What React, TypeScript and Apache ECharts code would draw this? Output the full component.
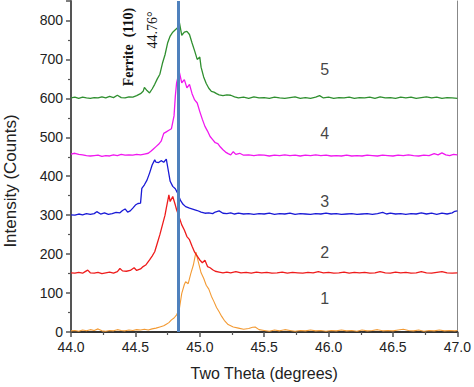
import React, { useEffect, useRef } from "react";
import * as echarts from "echarts";

// Two Theta (deg) vs Intensity (counts), offset patterns 1..5
const sample1: number[][] = [
  [44.00,3],[44.03,4],[44.06,2],[44.09,5],[44.12,3],[44.15,6],[44.18,4],[44.21,8],[44.24,3],[44.27,2],
  [44.30,4],[44.33,3],[44.36,6],[44.39,4],[44.42,3],[44.45,5],[44.48,4],[44.51,6],[44.54,5],[44.57,7],
  [44.60,5],[44.63,8],[44.66,10],[44.69,13],[44.72,16],[44.74,20],[44.76,24],[44.78,31],[44.80,36],[44.82,44],
  [44.84,57],[44.86,99],[44.88,122],[44.89,129],[44.91,124],[44.93,150],[44.95,172],[44.97,205],[44.99,178],[45.01,152],
  [45.03,138],[45.05,120],[45.07,110],[45.09,92],[45.11,78],[45.13,63],[45.15,52],[45.17,40],[45.19,30],[45.22,19],
  [45.26,13],[45.30,10],[45.34,7],[45.38,9],[45.41,12],[45.43,13],[45.46,6],[45.50,4],[45.54,2],[45.58,5],
  [45.62,3],[45.66,6],[45.70,4],[45.74,2],[45.78,4],[45.82,3],[45.86,5],[45.90,3],[45.94,4],[45.98,2],
  [46.02,4],[46.06,3],[46.10,5],[46.14,3],[46.18,4],[46.22,2],[46.26,5],[46.30,3],[46.34,4],[46.38,6],
  [46.42,3],[46.46,4],[46.50,3],[46.54,5],[46.58,7],[46.62,4],[46.66,3],[46.70,5],[46.74,2],[46.78,4],
  [46.82,3],[46.86,5],[46.90,3],[46.94,4],[46.98,3],[47.00,4],
];

const sample2: number[][] = [
  [44.00,152],[44.03,151],[44.06,153],[44.09,151],[44.11,155],[44.13,159],[44.15,152],[44.18,151],[44.21,153],[44.24,150],
  [44.27,152],[44.30,154],[44.33,151],[44.36,155],[44.38,163],[44.40,157],[44.43,156],[44.46,158],[44.49,165],[44.51,158],
  [44.54,162],[44.56,168],[44.58,172],[44.61,185],[44.63,195],[44.65,206],[44.67,228],[44.69,250],[44.71,275],[44.73,300],
  [44.74,318],[44.76,352],[44.77,335],[44.79,348],[44.81,326],[44.82,314],[44.84,295],[44.86,275],[44.88,262],[44.90,245],
  [44.92,237],[44.94,220],[44.96,205],[44.98,195],[45.00,185],[45.02,178],[45.04,184],[45.06,168],[45.08,165],[45.10,160],
  [45.12,156],[45.15,154],[45.18,152],[45.21,154],[45.24,152],[45.28,155],[45.32,152],[45.36,153],[45.40,151],[45.44,154],
  [45.48,152],[45.52,153],[45.56,151],[45.60,152],[45.64,154],[45.68,151],[45.72,153],[45.76,152],[45.80,151],[45.84,153],
  [45.88,152],[45.92,155],[45.96,152],[46.00,153],[46.04,151],[46.08,152],[46.12,154],[46.16,151],[46.20,153],[46.24,152],
  [46.28,153],[46.32,151],[46.36,152],[46.40,155],[46.44,152],[46.48,151],[46.52,154],[46.56,152],[46.60,153],[46.64,151],
  [46.68,152],[46.72,155],[46.76,152],[46.80,151],[46.84,153],[46.88,155],[46.92,152],[46.96,151],[47.00,152],
];

const sample3: number[][] = [
  [44.00,301],[44.03,300],[44.06,303],[44.09,301],[44.12,304],[44.15,302],[44.18,304],[44.20,309],[44.23,303],[44.26,306],
  [44.29,302],[44.32,304],[44.35,307],[44.38,306],[44.40,312],[44.42,316],[44.44,308],[44.46,311],[44.48,318],[44.50,326],
  [44.52,330],[44.54,331],[44.55,369],[44.57,378],[44.59,390],[44.61,408],[44.63,429],[44.65,442],[44.66,436],[44.68,435],
  [44.70,440],[44.72,436],[44.74,444],[44.75,425],[44.77,387],[44.79,374],[44.81,368],[44.83,355],[44.85,338],[44.87,328],
  [44.89,322],[44.92,318],[44.95,315],[44.98,312],[45.01,308],[45.04,305],[45.07,306],[45.10,304],[45.12,308],[45.15,311],
  [45.18,305],[45.21,304],[45.24,306],[45.27,303],[45.30,305],[45.34,303],[45.38,304],[45.42,302],[45.46,304],[45.50,303],
  [45.54,305],[45.58,302],[45.62,304],[45.66,303],[45.70,305],[45.74,302],[45.78,304],[45.82,303],[45.86,302],[45.90,304],
  [45.94,303],[45.98,305],[46.02,303],[46.06,304],[46.10,302],[46.14,303],[46.18,304],[46.22,302],[46.26,303],[46.30,304],
  [46.34,302],[46.38,304],[46.42,307],[46.45,303],[46.48,305],[46.52,303],[46.56,304],[46.60,302],[46.64,304],[46.68,303],
  [46.72,306],[46.76,303],[46.80,305],[46.84,302],[46.88,305],[46.92,303],[46.96,306],[46.98,310],[47.00,311],
];

const sample4: number[][] = [
  [44.00,457],[44.03,459],[44.06,456],[44.09,455],[44.12,453],[44.15,452],[44.18,453],[44.21,454],[44.24,451],[44.27,453],
  [44.30,452],[44.33,455],[44.36,453],[44.39,456],[44.42,454],[44.45,455],[44.48,454],[44.51,456],[44.54,455],[44.57,457],
  [44.60,459],[44.62,464],[44.64,470],[44.66,476],[44.68,482],[44.70,490],[44.72,510],[44.74,514],[44.76,518],[44.78,522],
  [44.80,555],[44.81,605],[44.82,640],[44.84,669],[44.86,640],[44.88,648],[44.90,627],[44.92,636],[44.94,612],[44.96,596],
  [44.98,588],[45.00,566],[45.02,546],[45.04,528],[45.06,516],[45.08,502],[45.10,494],[45.12,486],[45.14,484],[45.16,475],
  [45.18,468],[45.20,462],[45.22,458],[45.24,455],[45.26,463],[45.28,456],[45.31,459],[45.34,454],[45.38,455],[45.42,453],
  [45.46,455],[45.50,454],[45.54,452],[45.58,454],[45.62,453],[45.66,455],[45.70,453],[45.74,454],[45.78,452],[45.82,454],
  [45.86,453],[45.90,455],[45.94,453],[45.98,454],[46.02,452],[46.06,453],[46.10,452],[46.14,454],[46.18,452],[46.22,453],
  [46.26,452],[46.30,454],[46.34,453],[46.38,452],[46.42,454],[46.46,453],[46.50,452],[46.54,454],[46.58,453],[46.62,455],
  [46.66,453],[46.70,452],[46.74,454],[46.78,453],[46.82,458],[46.85,455],[46.88,460],[46.91,455],[46.94,453],[46.97,456],
  [47.00,455],
];

const sample5: number[][] = [
  [44.00,601],[44.03,603],[44.06,600],[44.09,603],[44.12,601],[44.15,600],[44.18,602],[44.21,601],[44.24,604],[44.27,601],
  [44.30,605],[44.33,602],[44.36,608],[44.39,602],[44.42,601],[44.45,604],[44.48,603],[44.51,607],[44.54,612],[44.56,618],
  [44.57,628],[44.59,620],[44.61,614],[44.63,624],[44.65,636],[44.67,650],[44.69,662],[44.71,690],[44.73,712],[44.75,742],
  [44.77,760],[44.79,770],[44.81,776],[44.83,782],[44.84,798],[44.86,762],[44.88,770],[44.90,772],[44.92,764],[44.94,742],
  [44.96,722],[44.98,700],[45.00,706],[45.01,680],[45.03,655],[45.05,638],[45.07,626],[45.09,618],[45.11,616],[45.13,612],
  [45.15,609],[45.18,607],[45.21,609],[45.24,608],[45.27,604],[45.30,601],[45.34,603],[45.38,600],[45.42,604],[45.46,601],
  [45.50,602],[45.54,600],[45.58,603],[45.62,601],[45.66,600],[45.70,602],[45.74,604],[45.78,600],[45.82,602],[45.86,600],
  [45.90,603],[45.93,607],[45.96,601],[46.00,603],[46.04,600],[46.08,602],[46.12,601],[46.16,603],[46.20,600],[46.24,602],
  [46.28,601],[46.32,603],[46.36,600],[46.40,604],[46.44,601],[46.48,602],[46.52,600],[46.56,603],[46.60,601],[46.64,603],
  [46.68,600],[46.72,602],[46.76,604],[46.80,601],[46.84,603],[46.88,600],[46.92,602],[46.96,601],[47.00,600],
];

const seriesNames = ["1", "2", "3", "4", "5"];
const seriesColors = ["#f39a33", "#ee1c1c", "#1a1ad6", "#f018ef", "#2f8f2f"];
const curveLabels: (number | string)[][] = [
  [45.97, 85, "1"],
  [45.97, 203, "2"],
  [45.97, 334, "3"],
  [45.97, 509, "4"],
  [45.97, 673, "5"],
];
const ferritePeak = 44.83;
const xTicks = { min: 44, max: 47, interval: 0.5 };
const yTicks = { min: 0, max: 850, interval: 100 };

export default function App() {
  const ref = useRef<HTMLDivElement>(null);
  useEffect(() => {
    if (!ref.current) return;
    const chart = echarts.init(ref.current, undefined, { renderer: "svg" });
    const datasets = [sample1, sample2, sample3, sample4, sample5];
    const axisColor = "#555";
    const font = "Liberation Sans, Arial, sans-serif";
    chart.setOption({
      animation: false,
      backgroundColor: "#fff",
      grid: { left: 71, right: 13, top: 1, bottom: 55, containLabel: false },
      xAxis: [
        {
          type: "value",
          min: xTicks.min,
          max: xTicks.max,
          interval: xTicks.interval,
          name: "Two Theta (degrees)",
          nameLocation: "middle",
          nameGap: 33,
          nameTextStyle: { fontFamily: font, fontSize: 16, color: "#222" },
          axisLine: { lineStyle: { color: axisColor, width: 1.5 } },
          axisTick: { inside: false, length: 5, lineStyle: { color: axisColor, width: 1.5 } },
          minorTick: { show: true, splitNumber: 2, length: 3, lineStyle: { color: axisColor, width: 1.2 } },
          axisLabel: {
            fontFamily: font, fontSize: 14, color: "#222", margin: 8,
            formatter: (v: number) => v.toFixed(1),
          },
          splitLine: { show: false },
        },
        {
          type: "value",
          position: "top",
          min: xTicks.min,
          max: xTicks.max,
          axisLine: { show: true, lineStyle: { color: "#333", width: 2 } },
          axisTick: { show: false },
          axisLabel: { show: false },
          splitLine: { show: false },
        },
      ],
      yAxis: [
        {
          type: "value",
          min: yTicks.min,
          max: yTicks.max,
          interval: yTicks.interval,
          axisLine: { show: true, lineStyle: { color: axisColor, width: 2 } },
          axisTick: { show: true, inside: false, length: 5, lineStyle: { color: axisColor, width: 1.5 } },
          minorTick: { show: true, splitNumber: 2, length: 3, lineStyle: { color: axisColor, width: 1.2 } },
          axisLabel: { fontFamily: font, fontSize: 14, color: "#222", margin: 8, showMaxLabel: false },
          splitLine: { show: false },
        },
        {
          type: "value",
          position: "right",
          min: yTicks.min,
          max: yTicks.max,
          axisLine: { show: true, lineStyle: { color: "#888", width: 1 } },
          axisTick: { show: false },
          axisLabel: { show: false },
          splitLine: { show: false },
        },
      ],
      graphic: [
        {
          type: "text",
          x: 10,
          y: 181,
          rotation: Math.PI / 2,
          style: {
            text: "Intensity (Counts)",
            fontFamily: font,
            fontSize: 17,
            fill: "#222",
            align: "center",
            verticalAlign: "middle",
          },
        },
        {
          type: "text",
          x: 128,
          y: 47,
          rotation: Math.PI / 2,
          style: {
            text: "Ferrite  (110)",
            fontFamily: "Liberation Serif, Times New Roman, serif",
            fontWeight: "bold",
            fontSize: 14,
            fill: "#111",
            align: "center",
            verticalAlign: "middle",
          },
        },
        {
          type: "text",
          x: 152.5,
          y: 30,
          rotation: Math.PI / 2,
          style: {
            text: "44.76°",
            fontFamily: "Liberation Serif, Times New Roman, serif",
            fontSize: 14,
            fill: "#111",
            align: "center",
            verticalAlign: "middle",
          },
        },
      ],
      series: [
        ...datasets.map((d, i) => ({
          type: "line",
          name: seriesNames[i],
          data: d,
          showSymbol: false,
          symbol: "none",
          z: 2 + i,
          lineStyle: { color: seriesColors[i], width: i === 0 ? 1.1 : 1.3 },
          ...(i === 4
            ? {
                markLine: {
                  silent: true,
                  symbol: "none",
                  label: { show: false },
                  lineStyle: { color: "#4f81bd", width: 3, type: "solid" },
                  data: [{ xAxis: ferritePeak }],
                  z: 10,
                },
              }
            : {}),
        })),
        {
          type: "scatter",
          name: "labels",
          symbolSize: 0,
          data: curveLabels.map((l) => ({ value: [l[0], l[1]], name: l[2] })),
          label: {
            show: true,
            position: "inside",
            formatter: (p: any) => p.name,
            fontFamily: font,
            fontSize: 16,
            color: "#111",
          },
          z: 20,
        },
      ],
    });
    return () => chart.dispose();
  }, []);
  return <div ref={ref} style={{ width: 474, height: 387, position: "absolute", left: 0, top: 0 }} />;
}
